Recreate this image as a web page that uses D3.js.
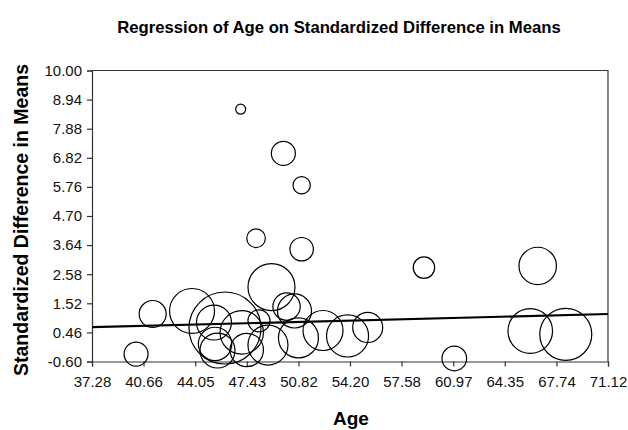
<!DOCTYPE html>
<html>
<head>
<meta charset="utf-8">
<script src="https://cdn.jsdelivr.net/npm/d3@7"></script>
<style>
  body { margin: 0; background: #fff; }
  svg { display: block; font-family: "Liberation Sans", Arial, sans-serif; }
</style>
</head>
<body>
<div id="chart"></div>
<script>
// study-level data
const ages = [40.17, 41.26, 43.84, 46.00, 45.28, 45.35, 45.51, 47.10, 48.23, 49.05,
  50.04, 50.56, 50.82, 52.43, 54.04, 55.36, 49.83, 47.03, 51.03, 48.04,
  51.03, 59.05, 66.51, 66.02, 68.35, 61.04, 48.82, 47.43];
const diffs = [-0.33, 1.13, 1.24, 0.62, 0.82, 0.04, -0.20, 0.46, 0.88, 2.11,
  1.40, 1.24, 0.26, 0.53, 0.33, 0.64, 6.98, 8.59, 5.82, 3.89,
  3.49, 2.82, 2.88, 0.51, 0.39, -0.49, 0.00, -0.18];
const weights = [9, 11.4, 31.6, 81, 19.1, 17.4, 19.1, 29.4, 7.6, 34.5,
  11.7, 18.1, 25, 25, 27.6, 14.1, 9, 1.56, 4.7, 5.4,
  8.6, 7.2, 21.9, 31.1, 42.3, 9.5, 25, 17.4];

const xTickLabels = ["37.28", "40.66", "44.05", "47.43", "50.82", "54.20", "57.58", "60.97", "64.35", "67.74", "71.12"];
const yTickLabels = ["-0.60", "0.46", "1.52", "2.58", "3.64", "4.70", "5.76", "6.82", "7.88", "8.94", "10.00"];

// fitted regression line end points
const regAges = [37.28, 71.12];
const regDiffs = [0.65, 1.13];

const width = 628;
const height = 430;
const margin = { top: 70.5, right: 20, bottom: 68.5, left: 92 };

const svg = d3.select("#chart").append("svg")
  .attr("width", width)
  .attr("height", height);

const xTicks = xTickLabels.map(Number);
const yTicks = yTickLabels.map(Number);

const x = d3.scaleLinear()
  .domain([xTicks[0], xTicks[xTicks.length - 1]])
  .range([margin.left, width - margin.right]);

const y = d3.scaleLinear()
  .domain([yTicks[0], yTicks[yTicks.length - 1]])
  .range([height - margin.bottom, margin.top]);

const r = d3.scaleSqrt().domain([0, 100]).range([0, 40]);

const axisColor = "#333";

// frame: top and right edges
svg.append("path")
  .attr("d", `M${x.range()[0]},${y.range()[1]}H${x.range()[1]}V${y.range()[0]}`)
  .attr("fill", "none")
  .attr("stroke", axisColor)
  .attr("stroke-width", 1.2);

const xAxis = svg.append("g")
  .attr("transform", `translate(0,${y.range()[0]})`)
  .call(d3.axisBottom(x).tickValues(xTicks).tickFormat((d, i) => xTickLabels[i]).tickSizeOuter(0).tickSize(5).tickPadding(10));

const yAxis = svg.append("g")
  .attr("transform", `translate(${x.range()[0]},0)`)
  .call(d3.axisLeft(y).tickValues(yTicks).tickFormat((d, i) => yTickLabels[i]).tickSizeOuter(0).tickSize(5).tickPadding(5));

[xAxis, yAxis].forEach((g) => {
  g.selectAll(".domain").attr("stroke", axisColor).attr("stroke-width", 1.2);
  g.selectAll(".tick line").attr("stroke", axisColor).attr("stroke-width", 1.2);
  g.selectAll(".tick text")
    .attr("fill", "#111")
    .style("font-size", "15px")
    .style("font-family", "Liberation Sans, Arial, sans-serif");
});

// bubbles
const studies = ages.map((a, i) => ({ age: a, diff: diffs[i], w: weights[i] }));

svg.append("g")
  .selectAll("circle")
  .data(studies)
  .join("circle")
  .attr("cx", (d) => x(d.age))
  .attr("cy", (d) => y(d.diff))
  .attr("r", (d) => r(d.w))
  .attr("fill", "none")
  .attr("stroke", "#000")
  .attr("stroke-width", 1.2);

// regression line
svg.append("line")
  .attr("x1", x(regAges[0]))
  .attr("y1", y(regDiffs[0]))
  .attr("x2", x(regAges[1]))
  .attr("y2", y(regDiffs[1]))
  .attr("stroke", "#000")
  .attr("stroke-width", 2.2);

// titles
svg.append("text")
  .attr("x", 339)
  .attr("y", 33)
  .attr("text-anchor", "middle")
  .style("font-size", "16.7px")
  .style("font-weight", "bold")
  .text("Regression of Age on Standardized Difference in Means");

svg.append("text")
  .attr("x", 351)
  .attr("y", 425)
  .attr("text-anchor", "middle")
  .style("font-size", "19px")
  .style("font-weight", "bold")
  .text("Age");

svg.append("text")
  .attr("transform", "translate(27.5,220) rotate(-90)")
  .attr("text-anchor", "middle")
  .style("font-size", "19.5px")
  .style("font-weight", "bold")
  .text("Standardized Difference in Means");
</script>
</body>
</html>
